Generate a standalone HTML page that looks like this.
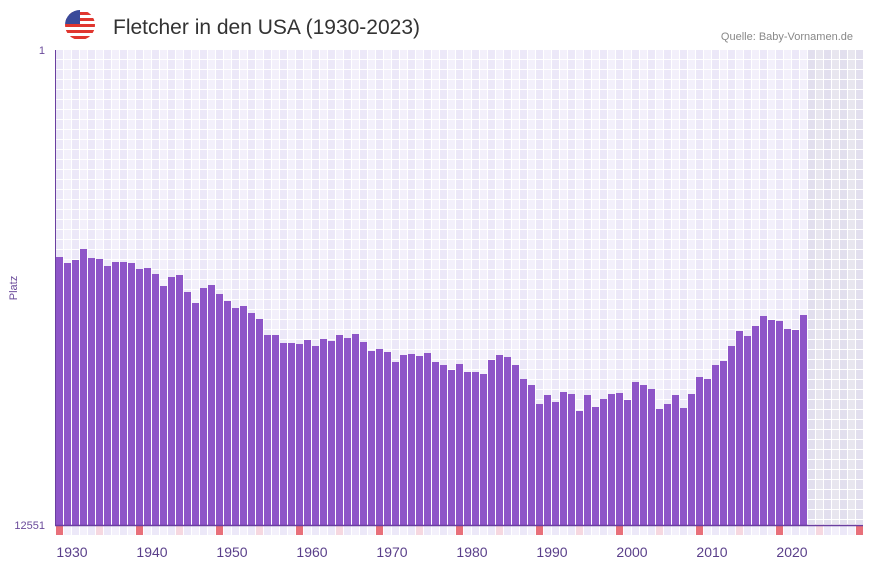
<!DOCTYPE html>
<html><head><meta charset="utf-8"><style>
body{margin:0;background:#fff;font-family:"Liberation Sans","DejaVu Sans",sans-serif}
</style></head><body>
<svg id="s" width="873" height="567" xmlns="http://www.w3.org/2000/svg" style="display:block">
<defs><clipPath id="c"><circle cx="80" cy="25" r="15"/></clipPath></defs>
<g clip-path="url(#c)">
<rect x="65" y="10" width="30" height="30" fill="#fff"/>
<rect x="65" y="12" width="30" height="3" fill="#e0362f"/>
<rect x="65" y="18" width="30" height="3" fill="#e0362f"/>
<rect x="65" y="24" width="30" height="3" fill="#e0362f"/>
<rect x="65" y="30" width="30" height="3" fill="#e0362f"/>
<rect x="65" y="36" width="30" height="3" fill="#e0362f"/>
<rect x="65" y="10" width="15" height="14" fill="#3a4a9a"/>
</g>
<text x="113" y="34" font-size="21" fill="#333">Fletcher in den USA (1930-2023)</text>
<text x="853" y="40" font-size="11" fill="#888" text-anchor="end">Quelle: Baby-Vornamen.de</text>
<text x="45" y="54" font-size="11" fill="#6a4a9a" text-anchor="end">1</text>
<text x="45" y="529" font-size="11" fill="#6a4a9a" text-anchor="end">12551</text>
<text x="17" y="288" font-size="11" fill="#6a4a9a" text-anchor="middle" transform="rotate(-90 17 288)">Platz</text>
<g id="g"></g>
<line x1="55.5" y1="50" x2="55.5" y2="525" stroke="#6a3fa0" stroke-width="1"/>
<line x1="55" y1="525.5" x2="863" y2="525.5" stroke="#6a3fa0" stroke-width="1.5"/>
</svg>
<script>
var tops=[257,263,260,249,258,259,266,262,262,263,269,268,274,286,277,275,292,303,288,285,294,301,308,306,313,319,335,335,343,343,344,340,346,339,341,335,338,334,342,351,349,352,362,355,354,356,353,362,365,370,364,372,372,374,360,355,357,365,379,385,404,395,402,392,394,411,395,407,399,394,393,400,382,385,389,409,404,395,408,394,377,379,365,361,346,331,336,326,316,320,321,329,330,315];
var g=document.getElementById('g'),h='';
for(var i=0;i<101;i++){var x=56+i*8;if(x>=863)break;var grey=x>=807;
var col=grey?(i%2?'#e8e6ef':'#e2dfee'):(i%2?'#f3f0fb':'#ece8f8');
for(var y=50;y<525;y+=10){h+='<rect x="'+x+'" y="'+y+'" width="7" height="'+Math.min(9,524-y)+'" fill="'+col+'"/>';}
var yr=1930+i,mc=(yr%10==0)?'#e8707a':(yr%10==5?'#f6d8e0':(i%2?'#f3f0fb':'#ece8f8'));
h+='<rect x="'+x+'" y="526" width="7" height="9" fill="'+mc+'"/>';
if(i<tops.length)h+='<rect x="'+x+'" y="'+tops[i]+'" width="7" height="'+(525-tops[i])+'" fill="#8e55c8"/>';}
for(var d=0;d<10;d++){h+='<text x="'+(72+d*80)+'" y="557" font-size="14" fill="#5a3f8a" text-anchor="middle">'+(1930+d*10)+'</text>';}
g.innerHTML=h;
</script>
</body></html>
